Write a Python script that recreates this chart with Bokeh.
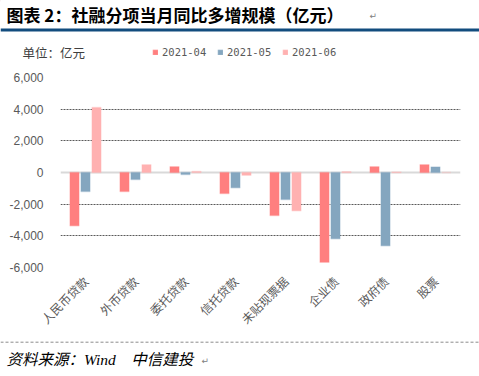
from bokeh.plotting import figure
from bokeh.layouts import column
from bokeh.models import (ColumnDataSource, Range1d, FactorRange, Legend, LegendItem,
                          NumeralTickFormatter, FixedTicker, Span)
from bokeh.transform import dodge
from bokeh.core.properties import value
from bokeh.embed import file_html
from bokeh.resources import INLINE

# ---------------- data ----------------
categories = ["人民币贷款", "外币贷款", "委托贷款", "信托贷款", "未贴现票据", "企业债", "政府债", "股票"]
series_names = ["2021-04", "2021-05", "2021-06"]
v_2021_04 = [-3370, -1200, 360, -1330, -2710, -5670, 360, 490]
v_2021_05 = [-1200, -440, -130, -970, -1710, -4190, -4630, 340]
v_2021_06 = [4100, 490, 60, -170, -2410, 40, 30, 0]
y_ticks = [-6000, -4000, -2000, 0, 2000, 4000, 6000]

title_text = "图表 2：社融分项当月同比多增规模（亿元）"
unit_text = "单位：亿元"
source_text = "资料来源：Wind\u00a0\u00a0\u00a0\u00a0中信建投"

colors = ["#FF7F7F", "#84A6BF", "#FFB1B1"]
CJK = "Noto Sans CJK SC"
GREY = "#595959"

W = 479
H_HEAD, H_MAIN, H_FOOT = 68, 270, 38


def blank(h, y0):
    f = figure(width=W, height=h, x_range=Range1d(0, W), y_range=Range1d(y0 + h, y0),
               output_backend="svg", toolbar_location=None, x_axis_type=None, y_axis_type=None,
               min_border=0, title=None, frame_align=False)
    f.outline_line_color = None
    f.grid.visible = False
    return f


# ---------------- header (title, rule, unit, legend) ----------------
head = blank(H_HEAD, 0)
head.text(x=[6], y=[14], text=[title_text], text_font=value(CJK), text_font_size="17px",
          text_font_style="bold", text_color="#000000", text_align="left", text_baseline="middle")
head.text(x=[369], y=[15], text=["↵"], text_font=value("DejaVu Sans"), text_font_size="9px",
          text_color="#808080", text_align="left", text_baseline="middle")
head.segment(x0=[0], y0=[29.5], x1=[W], y1=[29.5], line_color="#124C7E", line_width=3)
head.text(x=[22], y=[52], text=[unit_text], text_font=value(CJK), text_font_size="12.5px",
          text_color="#404040", text_align="left", text_baseline="middle")

# legend swatches: off-canvas stand-ins carrying the same styles as the bars
legend_renderers = []
for col in colors:
    legend_renderers.append(head.vbar(x=[-50], top=[0], bottom=[0], width=1, fill_color=col,
                                      line_color=col, line_alpha=0.35, line_width=1.5))
legend = Legend(items=[LegendItem(label=n, renderers=[r]) for n, r in zip(series_names, legend_renderers)],
                orientation="horizontal", location=(152, 10), padding=0, margin=0,
                spacing=5, label_standoff=4, glyph_width=6, glyph_height=6,
                label_width=50, label_height=12,
                label_text_font="DejaVu Sans Mono", label_text_font_size="10.5px",
                label_text_color=GREY, border_line_color=None, background_fill_alpha=0)
head.add_layout(legend)

# ---------------- main chart ----------------
src = ColumnDataSource(dict(cat=categories, a=v_2021_04, b=v_2021_05, c=v_2021_06))

p = figure(width=W, height=H_MAIN, x_range=FactorRange(*categories, range_padding=0),
           y_range=Range1d(-6000, 6000), output_backend="svg", toolbar_location=None,
           min_border_left=60, min_border_right=19, min_border_top=9, min_border_bottom=71,
           title=None, frame_align=False)
p.outline_line_color = None
p.xgrid.visible = False
p.ygrid.ticker = FixedTicker(ticks=[t for t in y_ticks if t != 0])
p.ygrid.grid_line_color = "#5a5a5a"
p.ygrid.grid_line_dash = "2 1"
p.ygrid.grid_line_width = 1

zero = Span(location=0, dimension="width", line_color="#D9D9D9", line_width=2, level="underlay")
p.add_layout(zero)

offsets = [-0.22, 0.0, 0.22]
fields = ["a", "b", "c"]
for f, off, col in zip(fields, offsets, colors):
    p.vbar(x=dodge("cat", off, range=p.x_range), top=f, width=0.18, source=src,
           fill_color=col, line_color=col, line_alpha=0.35, line_width=1.5)

p.yaxis.ticker = FixedTicker(ticks=y_ticks)
p.yaxis.formatter = NumeralTickFormatter(format="0,0")
p.yaxis.axis_line_color = None
p.yaxis.major_tick_line_color = None
p.yaxis.minor_tick_line_color = None
p.yaxis.major_label_text_font = "Liberation Sans"
p.yaxis.major_label_text_font_size = "12px"
p.yaxis.major_label_text_color = GREY
p.yaxis.major_label_standoff = 11

p.xaxis.axis_line_color = None
p.xaxis.major_tick_line_color = None
p.xaxis.minor_tick_line_color = None
p.xaxis.major_label_orientation = 0.785398
p.xaxis.major_label_text_font = CJK
p.xaxis.major_label_text_font_size = "12px"
p.xaxis.major_label_text_color = GREY
p.xaxis.major_label_standoff = 5

# ---------------- footer ----------------
foot = blank(H_FOOT, 0)
foot.segment(x0=[0], y0=[3.7], x1=[W], y1=[3.7], line_color="#8c8c8c", line_width=1, line_dash="3 2")
foot.text(x=[6], y=[21], text=[source_text], text_font=value("Liberation Serif, " + CJK),
          text_font_size="15.5px", text_font_style="italic", text_color="#000000",
          text_align="left", text_baseline="middle")
foot.text(x=[201], y=[22], text=["↵"], text_font=value("DejaVu Sans"), text_font_size="9px",
          text_color="#808080", text_align="left", text_baseline="middle")

layout = column(head, p, foot, spacing=0)
open("out.html", "w").write(file_html(layout, INLINE))
